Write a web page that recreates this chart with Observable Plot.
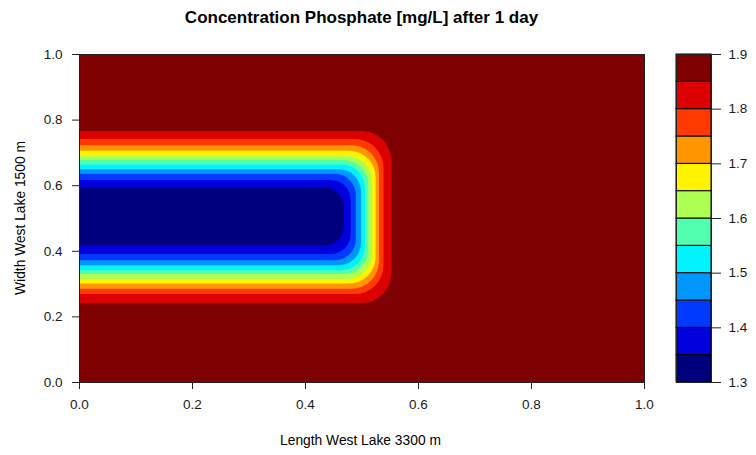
<!DOCTYPE html>
<html>
<head>
<meta charset="utf-8">
<script src="https://cdn.jsdelivr.net/npm/d3@7"></script>
<script src="https://cdn.jsdelivr.net/npm/@observablehq/plot@0.6"></script>
<style>
  html, body { margin: 0; padding: 0; background: #fff; }
  #wrap { position: relative; width: 756px; height: 455px; font-family: "Liberation Sans", Arial, sans-serif; color: #000; }
  #main, #key { position: absolute; top: 0; }
  #main { left: 0; }
  #key { left: 660px; }
  .title { position: absolute; top: 8px; left: 0; width: 723px; text-align: center; font-weight: bold; font-size: 17px; }
  .xlab { position: absolute; top: 433px; left: 0; width: 721px; text-align: center; font-size: 13.8px; }
  .ylab { position: absolute; left: 20px; top: 218px; transform: translate(-50%, -50%) rotate(-90deg); white-space: nowrap; font-size: 13.8px; }
</style>
</head>
<body>
<div id="wrap">
  <div id="main"></div>
  <div id="key"></div>
  <div class="title">Concentration Phosphate [mg/L] after 1 day</div>
  <div class="xlab">Length West Lake 3300 m</div>
  <div class="ylab">Width West Lake 1500 m</div>
</div>
<script>
// Key level edges (mg/L)
const keyLevels = [1.30, 1.35, 1.40, 1.45, 1.50, 1.55, 1.60, 1.65, 1.70, 1.75, 1.80, 1.85, 1.90];
const keyTicks = [1.3, 1.4, 1.5, 1.6, 1.7, 1.8, 1.9];
const axisTicks = [0, 0.2, 0.4, 0.6, 0.8, 1.0];

// Contour lines (value below level inside)
const contourLevels = [1.85, 1.80, 1.75, 1.70, 1.65, 1.60, 1.55, 1.50, 1.45, 1.40, 1.35];
const contourTop    = [0.765, 0.741, 0.722, 0.705, 0.690, 0.677, 0.663, 0.649, 0.635, 0.616, 0.592];
const contourBottom = [0.241, 0.268, 0.284, 0.300, 0.314, 0.329, 0.341, 0.356, 0.371, 0.390, 0.416];
const contourRight  = [0.553, 0.539, 0.531, 0.525, 0.519, 0.512, 0.506, 0.499, 0.490, 0.481, 0.469];

// filled.contour jet-like palette, one colour per band between key levels
const palette = ["#00007F", "#0000DC", "#003AFF", "#0096FF", "#00F3FF", "#51FFAE",
                 "#ADFF51", "#FFF300", "#FF9600", "#FF3A00", "#DC0000", "#7F0000"];

const bandColor = (lv) => palette[Math.round((lv - keyLevels[0]) / 0.05) - 1];
const fontStyle = { fontFamily: "Liberation Sans, Arial, sans-serif", fontSize: "13.5px", color: "#1a1a1a", background: "transparent", overflow: "visible" };

const main = Plot.plot({
  width: 756, height: 455,
  marginLeft: 79, marginRight: 112, marginTop: 54, marginBottom: 73,
  style: fontStyle,
  x: { domain: [0, 1] },
  y: { domain: [0, 1] },
  marks: [
    Plot.frame({ fill: palette[palette.length - 1] }),
    ...contourLevels.map((lv, i) => Plot.rect([i], {
      x1: -0.2, x2: (j) => contourRight[j],
      y1: (j) => contourBottom[j], y2: (j) => contourTop[j],
      fill: bandColor(lv),
      rx: 30 - i * 1.1,
      clip: true
    })),
    Plot.frame({ stroke: "#222", strokeWidth: 1 }),
    Plot.axisX({ ticks: axisTicks, tickFormat: d3.format(".1f"), tickSize: 7, tickPadding: 10, label: null, stroke: "#222" }),
    Plot.axisY({ ticks: axisTicks, tickFormat: d3.format(".1f"), tickSize: 7, tickPadding: 10, label: null, stroke: "#222" })
  ]
});
document.getElementById("main").appendChild(main);

const bands = d3.range(keyLevels.length - 1);
const key = Plot.plot({
  width: 96, height: 455,
  marginLeft: 16, marginRight: 45, marginTop: 54, marginBottom: 73,
  style: fontStyle,
  x: { domain: [0, 1], axis: null },
  y: { domain: [keyLevels[0], keyLevels[keyLevels.length - 1]] },
  marks: [
    ...bands.map((b) => Plot.rect([b], {
      x1: 0, x2: 1,
      y1: (j) => keyLevels[j], y2: (j) => keyLevels[j + 1],
      fill: palette[b], stroke: "#000", strokeWidth: 1
    })),
    Plot.frame({ stroke: "#222", strokeWidth: 1 }),
    Plot.axisY({ anchor: "right", ticks: keyTicks, tickFormat: d3.format(".1f"), tickSize: 9, tickPadding: 8, label: null, stroke: "#222" })
  ]
});
document.getElementById("key").appendChild(key);
</script>
</body>
</html>
